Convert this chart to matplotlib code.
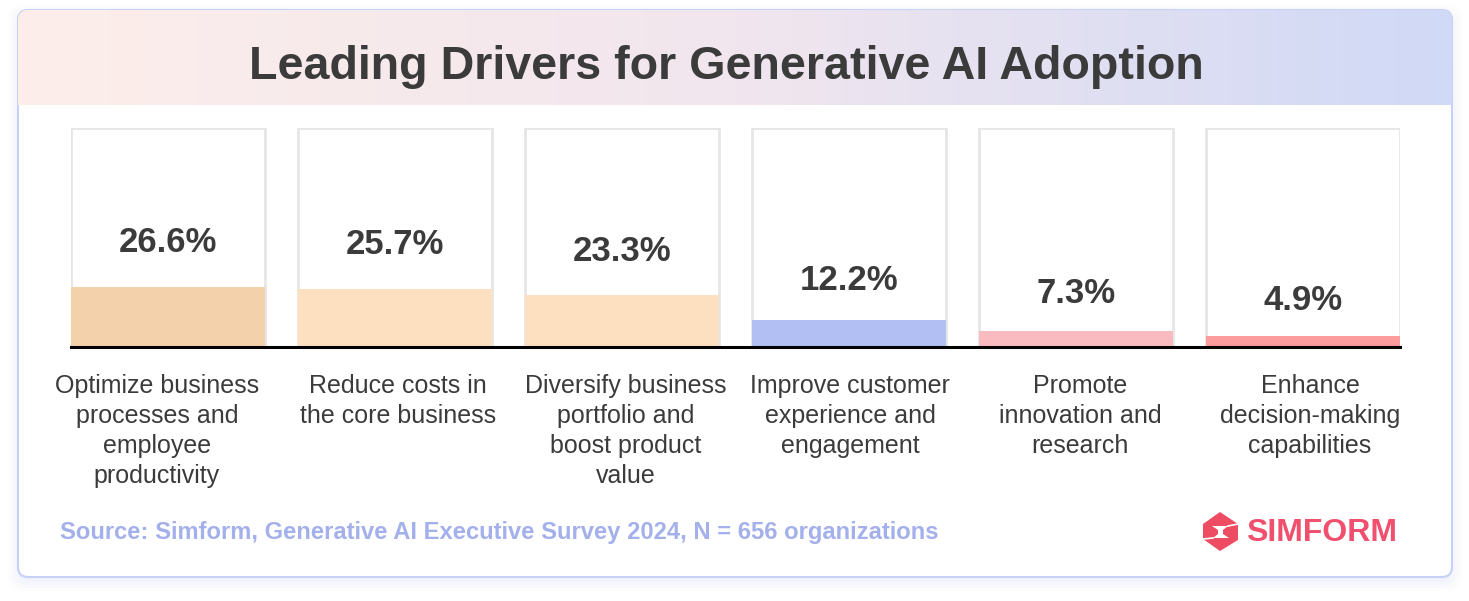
import matplotlib
matplotlib.use("Agg")
import matplotlib.pyplot as plt
import matplotlib.transforms as mtransforms
import numpy as np
from matplotlib.patches import FancyBboxPatch, Polygon
from matplotlib.colors import LinearSegmentedColormap

categories = [
    "Optimize business\nprocesses and\nemployee\nproductivity",
    "Reduce costs in\nthe core business",
    "Diversify business\nportfolio and\nboost product\nvalue",
    "Improve customer\nexperience and\nengagement",
    "Promote\ninnovation and\nresearch",
    "Enhance\ndecision-making\ncapabilities",
]
values = [26.6, 25.7, 23.3, 12.2, 7.3, 4.9]
bar_colors = ["#f2d1ab", "#fde0c0", "#fde0c0", "#b1bff2", "#f9bbc0", "#fd9c9c"]
title = "Leading Drivers for Generative AI Adoption"
source = "Source: Simform, Generative AI Executive Survey 2024, N = 656 organizations"

W, H = 1469, 601
FONT = "Liberation Sans"
TXT = "#3b3b3b"

fig = plt.figure(figsize=(W / 100, H / 100), dpi=100)
fig.patch.set_facecolor("white")

# background canvas in pixel coordinates
bg = fig.add_axes([0, 0, 1, 1])
bg.axis("off")

# soft shadow
for i, a in enumerate([0.05, 0.04, 0.03, 0.02]):
    d = 3 + i * 3
    sh = FancyBboxPatch((18 - d + 2, 10 - d + 6), 1434 + 2 * d - 4, 567 + 2 * d - 4,
                        boxstyle="round,pad=0,rounding_size=14", fc="#aab8f0",
                        ec="none", alpha=a, zorder=0)
    bg.add_patch(sh)

card = FancyBboxPatch((18, 10), 1434, 567, boxstyle="round,pad=0,rounding_size=10",
                      fc="white", ec="#c7d1f7", lw=1.5, zorder=1)
bg.add_patch(card)

cmap = LinearSegmentedColormap.from_list("hdr", ["#fdeeea", "#f1e6ee", "#d0d9f6"])
grad = np.linspace(0, 1, 512).reshape(1, -1)
im = bg.imshow(grad, cmap=cmap, extent=[18, 1452, 105, 10], aspect="auto", zorder=2)
clip = FancyBboxPatch((18, 10), 1434, 567, boxstyle="round,pad=0,rounding_size=10",
                      fc="none", ec="none", transform=bg.transData)
bg.add_patch(clip)
im.set_clip_path(clip)
bg.set_xlim(0, W)
bg.set_ylim(H, 0)

bg.text(726, 67, title, ha="center", va="center", fontsize=33.6, fontweight="bold",
        color=TXT, family=FONT, zorder=3)

bg.text(60, 533, source, ha="left", va="center", fontsize=17.1, fontweight="bold",
        color="#a3b0ec", family=FONT, zorder=3)

# logo
hexa = Polygon([(1220, 512), (1238, 524), (1238, 540), (1220, 551), (1203, 539), (1203, 524)],
               closed=True, fc="#ee4c63", ec="none", zorder=3)
bg.add_patch(hexa)
notch = Polygon([(1212, 526), (1228, 526), (1223, 530), (1223, 534), (1229, 538),
                 (1213, 538), (1218, 534), (1218, 530)],
                closed=True, fc="white", ec="none", zorder=4)
bg.add_patch(notch)
bg.plot([1238, 1228], [524, 526], color="white", lw=1.2, zorder=4)
bg.plot([1203, 1213], [539, 538], color="white", lw=1.2, zorder=4)
bg.text(1246, 533, "SIMFORM", ha="left", va="center", fontsize=23, fontweight="bold",
        color="#f0506e", family=FONT, zorder=3)

# main chart axes: x 71..1400, y 128..347 (pixels)
ax = fig.add_axes([71 / W, 1 - 347 / H, (1400 - 71) / W, (347 - 128) / H])
ax.set_facecolor("none")
w = 194 / 227
x = np.arange(len(values))
top = 97.5
ax.bar(x, [top] * len(values), width=w, color="white", edgecolor="#e6e6e6", linewidth=2, zorder=1)
ax.bar(x, values, width=w, color=bar_colors, edgecolor="none", zorder=2)
ax.set_xlim(-w / 2, len(values) - 1 + w / 2)
ax.set_ylim(0, top)
ax.axhline(0, color="black", lw=2.2, zorder=3, clip_on=False)
for xi, v in zip(x, values):
    ax.annotate(f"{v}%", (xi, v), xytext=(0, 34 + 0.4 * v), textcoords="offset pixels",
                ha="center", va="center", fontsize=25, fontweight="bold",
                color=TXT, family=FONT, zorder=4)
for s in ax.spines.values():
    s.set_visible(False)
ax.set_yticks([])
ax.set_xticks([])

# category labels below the baseline (small per-label horizontal nudges as in the source)
label_dx = [-11, 3, 4, 1, 4, 7]
blend = mtransforms.blended_transform_factory(ax.transData, ax.transAxes)
for xi, lab, dx in zip(x, categories, label_dx):
    tr = mtransforms.offset_copy(blend, fig=fig, x=dx, y=-27, units="dots")
    ax.text(xi, 0, lab, transform=tr, ha="center", va="top", multialignment="center",
            fontsize=18, color=TXT, family=FONT, linespacing=1.31, clip_on=False)

fig.savefig("out.png", dpi=100, facecolor="white")
